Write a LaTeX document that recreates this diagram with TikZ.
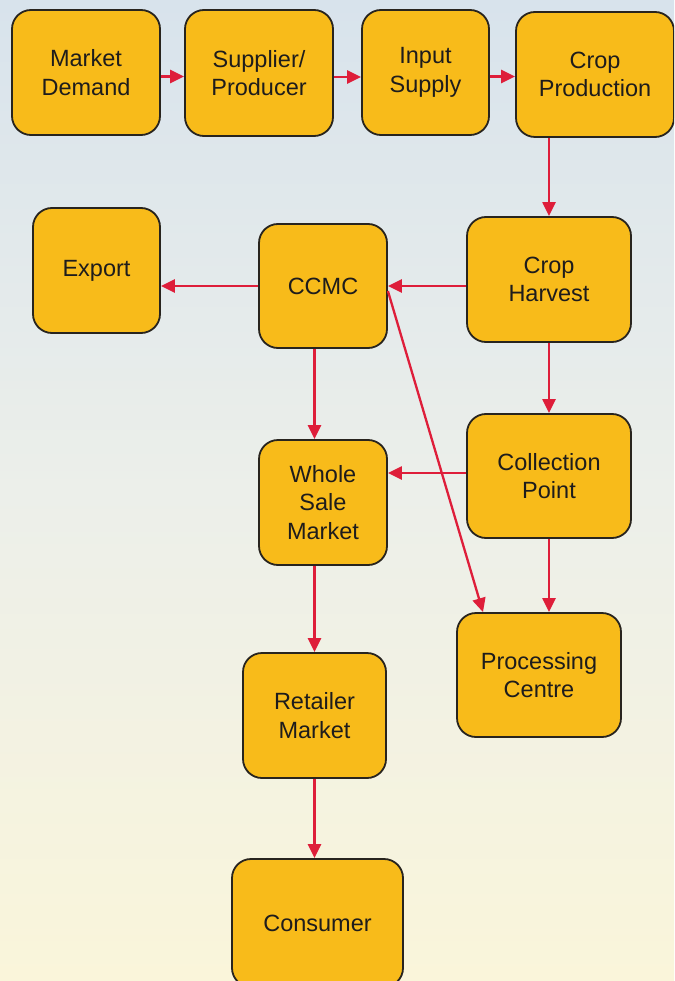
\documentclass[tikz,border=0pt]{standalone}
\usepackage{fontspec}
\setmainfont{Liberation Sans}
\usetikzlibrary{arrows.meta,calc}
\definecolor{boxfill}{RGB}{248,187,26}
\definecolor{boxline}{RGB}{40,36,30}
\definecolor{arrred}{RGB}{222,30,58}
\definecolor{bgtop}{RGB}{216,227,236}
\definecolor{bgmid}{RGB}{236,239,234}
\definecolor{bgbot}{RGB}{250,245,218}
\definecolor{txt}{RGB}{30,28,28}
\tikzset{
  box/.style={draw=boxline, line width=1.8pt, fill=boxfill, rounded corners=19pt,
    align=center, text=txt, inner sep=0pt,
    font=\fontsize{23.5}{28.5}\selectfont},
  arr/.style={draw=arrred, line width=2.3pt, -{Triangle[length=14pt,width=13pt]}}
}
\begin{document}
\begin{tikzpicture}[x=1pt,y=-1pt]
\shade[top color=bgtop, bottom color=bgbot, middle color=bgmid] (0,0) rectangle (674,981);
\useasboundingbox (0,0) rectangle (674,981);
\clip (0,0) rectangle (674,981);
% nodes: centers from pixel boxes
\node[box, minimum width=148, minimum height=125] (md) at (86,72.5) {Market\\Demand};
\node[box, minimum width=148, minimum height=126] (sp) at (259,73) {Supplier/\\Producer};
\node[box, minimum width=127, minimum height=125] (is) at (425.5,72.5) {Input\\Supply};
\node[box, minimum width=158, minimum height=125] (cp) at (595,74.5) {Crop\\Production};
\node[box, minimum width=127, minimum height=125] (ex) at (96.5,270.5) {Export};
\node[box, minimum width=128, minimum height=124] (cc) at (323,286) {CCMC};
\node[box, minimum width=164, minimum height=125] (ch) at (549,279.5) {Crop\\Harvest};
\node[box, minimum width=164, minimum height=124] (co) at (549,476) {Collection\\Point};
\node[box, minimum width=128, minimum height=125] (ws) at (323,502.5) {Whole\\Sale\\Market};
\node[box, minimum width=164, minimum height=124] (pc) at (539,675) {Processing\\Centre};
\node[box, minimum width=143, minimum height=125] (rm) at (314.5,715.5) {Retailer\\Market};
\node[box, minimum width=171, minimum height=128] (cn) at (317.5,923) {Consumer};
% connectors
\draw[arr] ([yshift=-4pt]md.east) -- ([yshift=-4pt]md.east -| sp.west);
\draw[arr] ([yshift=-4pt]sp.east) -- ([yshift=-4pt]sp.east -| is.west);
\draw[arr] ([yshift=-4pt]is.east) -- ([yshift=-4pt]is.east -| cp.west);
\draw[arr] (cp.south -| ch.north) -- (ch.north);
\draw[arr] (ch.west |- cc.east) -- (cc.east);
\draw[arr] (cc.west) -- (cc.west -| ex.east);
\draw[arr] (cc.south -| rm.north) -- (ws.north -| rm.north);
\draw[arr] (ch.south) -- (co.north);
\draw[arr] ([yshift=3pt]co.west) -- ([yshift=3pt]co.west -| ws.east);
\draw[arr] ([yshift=-5pt]cc.east) -- ([xshift=-56pt]pc.north);
\draw[arr] (co.south) -- (co.south |- pc.north);
\draw[arr] (ws.south -| rm.north) -- (rm.north);
\draw[arr] (rm.south) -- (rm.south |- cn.north);
\end{tikzpicture}
\end{document}
